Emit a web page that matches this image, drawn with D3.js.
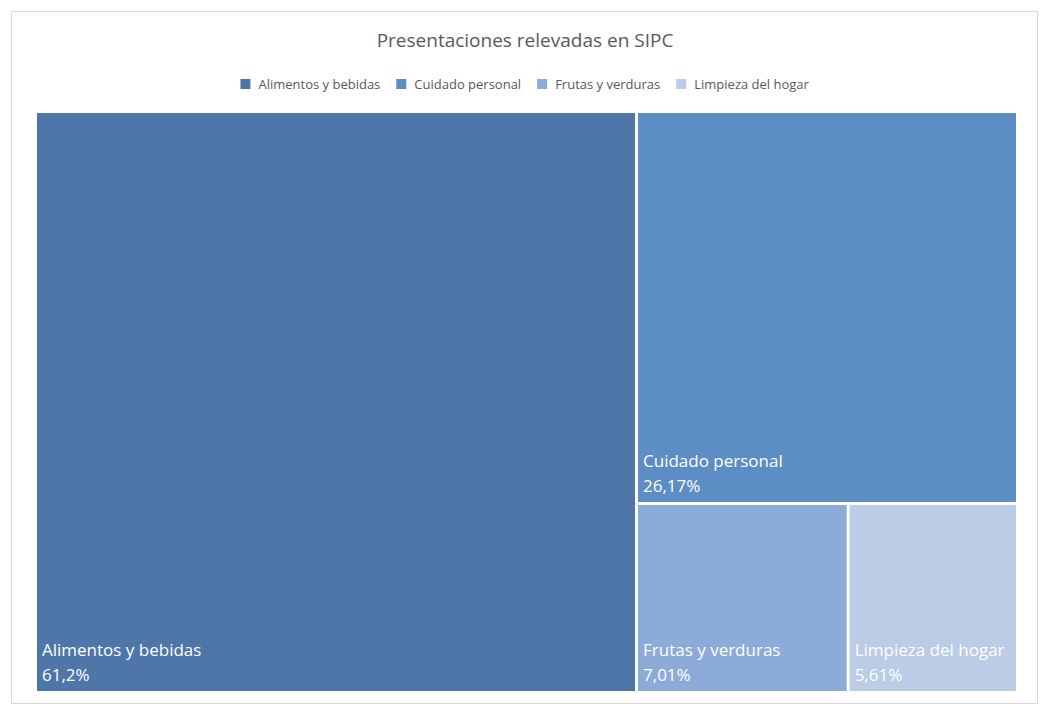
<!DOCTYPE html>
<html><head><meta charset="utf-8">
<script src="https://cdn.jsdelivr.net/npm/d3@7"></script>
<style>body{margin:0;background:#fff}text{font-family:"Open Sans",Calibri,sans-serif}</style>
</head><body><svg id="c" width="1050" height="718"></svg>
<script>
const categories = ['Alimentos y bebidas', 'Cuidado personal', 'Frutas y verduras', 'Limpieza del hogar'];
const values = [61.2, 26.17, 7.01, 5.61];
const labels = ['61,2%', '26,17%', '7,01%', '5,61%'];
const colors = ['#4e76a9', '#5d8dc5', '#8cabd9', '#bacce6'];

const svg = d3.select('#c');
svg.append('rect').attr('x', 11.5).attr('y', 11.5).attr('width', 1026).attr('height', 692)
  .attr('fill', '#fff').attr('stroke', '#d9d9d9');
svg.append('text').attr('x', 525).attr('y', 47).attr('text-anchor', 'middle')
  .attr('font-size', 19).attr('fill', '#595959').text('Presentaciones relevadas en SIPC');

// legend
const leg = svg.append('g');
let lx = 222;
const legW = [0, 0, 0, 0];
categories.forEach((c, i) => {
  leg.append('rect').attr('x', lx).attr('y', 79).attr('width', 10).attr('height', 10).attr('fill', colors[i]);
  const t = leg.append('text').attr('x', lx + 18).attr('y', 89).attr('font-size', 13).attr('fill', '#595959').text(c);
  lx += 18 + t.node().getComputedTextLength() + 16;
});
const lb = leg.node().getBBox();
leg.attr('transform', `translate(${525 - (lb.x + lb.width / 2)},0)`);

const root = d3.hierarchy({children: categories.map((c, i) => ({name: c, value: values[i], label: labels[i], color: colors[i]}))})
  .sum(d => d.value || 0);
d3.treemap().tile(d3.treemapSquarify).size([979, 578]).paddingInner(3)(root);

const g = svg.append('g').attr('transform', 'translate(37,113)');
const cell = g.selectAll('g').data(root.leaves()).join('g');
cell.append('rect').attr('x', d => d.x0).attr('y', d => d.y0)
  .attr('width', d => d.x1 - d.x0).attr('height', d => d.y1 - d.y0).attr('fill', d => d.data.color);
cell.each(function (d) {
  const w = d.x1 - d.x0;
  const words = d.data.name.split(' ');
  const lines = [];
  const meas = g.append('text').attr('font-size', 17);
  let cur = '';
  words.forEach(wd => {
    const test = cur ? cur + ' ' + wd : wd;
    meas.text(test);
    if (meas.node().getComputedTextLength() > w - 12 && cur) { lines.push(cur); cur = wd; } else cur = test;
  });
  lines.push(cur);
  meas.remove();
  lines.push(d.data.label);
  const t = d3.select(this).append('text').attr('font-size', 17).attr('fill', '#fff');
  lines.forEach((l, k) => t.append('tspan').attr('x', d.x0 + 5)
    .attr('y', d.y1 - 10 - (lines.length - 1 - k) * 25).text(l));
});
</script></body></html>
